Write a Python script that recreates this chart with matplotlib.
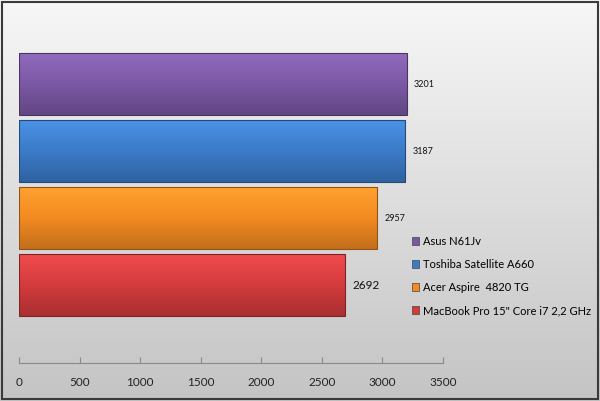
import numpy as np
import matplotlib.pyplot as plt
from matplotlib.patches import Rectangle
from matplotlib.colors import LinearSegmentedColormap, to_rgb

plt.rcParams['font.family'] = ['Lato', 'DejaVu Sans']

# data (bottom to top)
models = ['MacBook Pro 15" Core i7 2,2 GHz', 'Acer Aspire  4820 TG',
          'Toshiba Satellite A660', 'Asus N61Jv']
scores = [2692, 2957, 3187, 3201]
colors = ['#d33b3d', '#f38a22', '#3b7bc8', '#7b58a4']
label_sizes = [8.5, 6.5, 6.5, 6.5]
ticks = [0, 500, 1000, 1500, 2000, 2500, 3000, 3500]

fig = plt.figure(figsize=(6, 4.01), dpi=100)

# background gradient
bg = fig.add_axes([0, 0, 1, 1], zorder=0)
bg.axis('off')
grad = np.linspace(0, 1, 256).reshape(-1, 1)
bg_cmap = LinearSegmentedColormap.from_list('bg', ['#f7f7f7', '#c4c4c4'])
bg.imshow(grad, aspect='auto', cmap=bg_cmap, extent=[0, 1, 0, 1])
bg.add_patch(Rectangle((0.004, 0.006), 0.992, 0.988, fill=False,
                       edgecolor='#3a3a3a', linewidth=1.5))
bg.set_xlim(0, 1)
bg.set_ylim(0, 1)

ax = fig.add_axes([19 / 600, 1 - 363 / 401, 424 / 600, 323 / 401], zorder=1)
ax.patch.set_alpha(0)
pos = np.arange(len(models))
bars = ax.barh(pos, scores, height=0.925, color=colors, edgecolor='none')

# shaded bars
for bar, c in zip(bars, colors):
    r, g, b = to_rgb(c)
    light = (min(r * 1.1 + 0.04, 1), min(g * 1.1 + 0.04, 1), min(b * 1.1 + 0.04, 1))
    dark = (r * 0.8, g * 0.8, b * 0.8)
    cm = LinearSegmentedColormap.from_list('b', [dark, c, light])
    x0, y0 = bar.get_x(), bar.get_y()
    w, h = bar.get_width(), bar.get_height()
    ax.imshow(grad, aspect='auto', cmap=cm, origin='lower',
              extent=[x0, x0 + w, y0, y0 + h], zorder=2)
    ax.add_patch(Rectangle((x0, y0), w, h, fill=False,
                           edgecolor=(r * 0.6, g * 0.6, b * 0.6), linewidth=0.8, zorder=3))

for p, s, fs in zip(pos, scores, label_sizes):
    ax.text(s + 60, p, str(s), va='center', ha='left', fontsize=fs, color='#111111')

ax.set_xlim(0, 3500)
ax.set_ylim(-1.164, 3.657)
ax.set_xticks(ticks)
ax.set_xticklabels([str(t) for t in ticks], fontsize=8.5, color='#222222')
ax.set_yticks([])
for sp in ['top', 'right', 'left']:
    ax.spines[sp].set_visible(False)
ax.spines['bottom'].set_color('#8a8a8a')
ax.tick_params(axis='x', direction='in', length=4, color='#8a8a8a', pad=10)

# legend
handles = [Rectangle((0, 0), 1, 1, facecolor=c, edgecolor='#444444', linewidth=0.5)
           for c in colors[::-1]]
fig.legend(handles, models[::-1], loc='upper left', bbox_to_anchor=(406 / 600, 1 - 230 / 401),
           frameon=False, fontsize=8, handlelength=0.7, handleheight=0.7,
           handletextpad=0.3, labelspacing=1.1, borderpad=0)

fig.savefig('out.png', dpi=100)
